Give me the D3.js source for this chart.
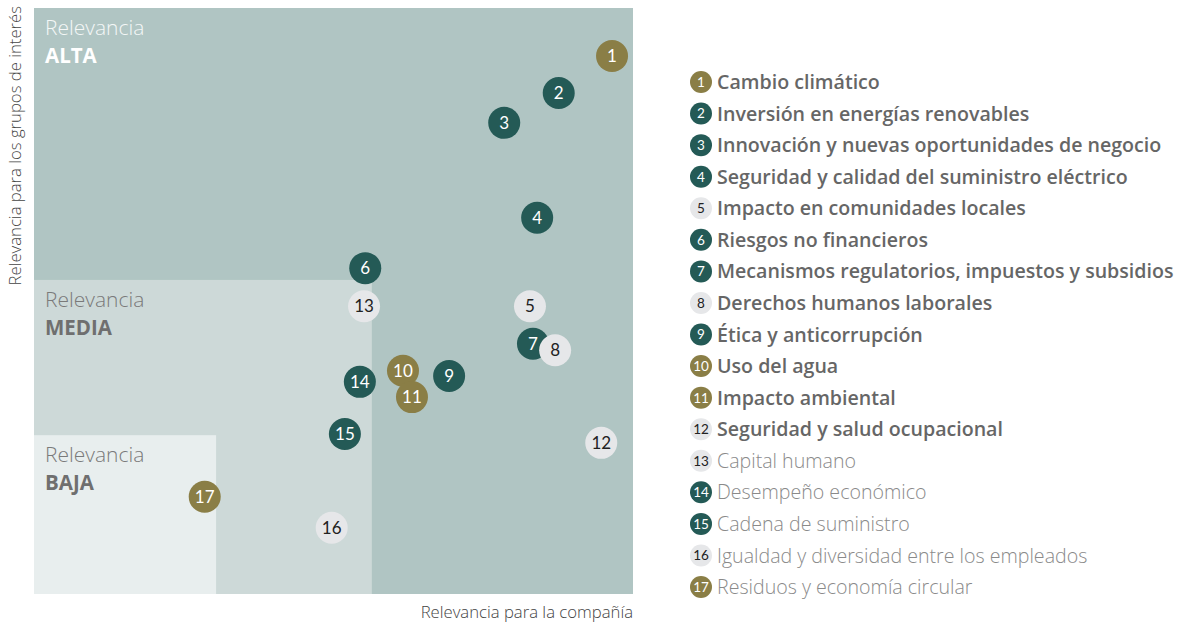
<!DOCTYPE html>
<html>
<head>
<meta charset="utf-8">
<script src="https://cdn.jsdelivr.net/npm/d3@7"></script>
<style>
  body { margin: 0; background: #fff; }
  svg text { font-family: "Open Sans", "Noto Sans", sans-serif; }
</style>
</head>
<body>
<div id="chart"></div>
<script>
// Chart size
const width = 1179;
const height = 626;
const margins = { top: 8, right: 546, bottom: 32, left: 34 };
const innerWidth = width - margins.left - margins.right;
const innerHeight = height - margins.top - margins.bottom;

// Topics (ids, names, group) and their positions (0-100 scale)
const ids = [1, 2, 3, 4, 5, 6, 7, 8, 9, 10, 11, 12, 13, 14, 15, 16, 17];
const names = [
  "Cambio climático",
  "Inversión en energías renovables",
  "Innovación y nuevas oportunidades de negocio",
  "Seguridad y calidad del suministro eléctrico",
  "Impacto en comunidades locales",
  "Riesgos no financieros",
  "Mecanismos regulatorios, impuestos y subsidios",
  "Derechos humanos laborales",
  "Ética y anticorrupción",
  "Uso del agua",
  "Impacto ambiental",
  "Seguridad y salud ocupacional",
  "Capital humano",
  "Desempeño económico",
  "Cadena de suministro",
  "Igualdad y diversidad entre los empleados",
  "Residuos y economía circular"
];
const groups = ["env", "dark", "dark", "dark", "light", "dark", "dark", "light", "dark",
                "env", "env", "light", "light", "dark", "dark", "light", "env"];
const companyValues = [96.5, 87.6, 78.5, 84.0, 82.8, 55.3, 83.3, 87.0, 69.3, 61.6, 63.1, 94.7, 55.1, 54.4, 51.9, 49.7, 28.5];
const stakeholderValues = [91.8, 85.5, 80.4, 64.2, 49.1, 55.6, 42.7, 41.6, 37.2, 38.1, 33.6, 25.8, 49.1, 36.2, 27.3, 11.3, 16.6];
// Topics 1-12 are material (bold in legend)
const highlighted = [true, true, true, true, true, true, true, true, true, true, true, true,
                     false, false, false, false, false];

// Relevance zones: upper bounds on both axes
const zoneNames = ["ALTA", "MEDIA", "BAJA"];
const zoneX = [100, 56.4, 30.4];
const zoneY = [100, 53.6, 27.1];

const data = ids.map((id, i) => ({
  id: id,
  name: names[i],
  group: groups[i],
  x: companyValues[i],
  y: stakeholderValues[i],
  bold: highlighted[i]
}));

const fillColor = d3.scaleOrdinal()
  .domain(["env", "dark", "light"])
  .range(["#8a7e46", "#245a56", "#e6e7e9"]);
const textColor = d3.scaleOrdinal()
  .domain(["env", "dark", "light"])
  .range(["#ffffff", "#ffffff", "#222222"]);
const zoneFill = d3.scaleOrdinal()
  .domain(zoneNames)
  .range(["#b0c5c3", "#cdd9d8", "#e8eeee"]);

const xScale = d3.scaleLinear().domain([0, 100]).range([0, innerWidth]);
const yScale = d3.scaleLinear().domain([0, 100]).range([innerHeight, 0]);

const svg = d3.select("#chart")
  .append("svg")
    .attr("width", width)
    .attr("height", height);

const mainG = svg.append("g")
  .attr("transform", `translate(${margins.left}, ${margins.top})`);

// Zone rectangles
const zones = zoneNames.map((z, i) => ({ name: z, x: zoneX[i], y: zoneY[i] }));

mainG.selectAll(".zone")
  .data(zones)
  .enter()
  .append("rect")
    .attr("x", 0)
    .attr("y", d => yScale(d.y))
    .attr("width", d => xScale(d.x))
    .attr("height", d => innerHeight - yScale(d.y))
    .attr("fill", d => zoneFill(d.name));

const zoneLabels = mainG.selectAll(".zoneLabel")
  .data(zones)
  .enter()
  .append("g")
    .attr("transform", d => `translate(11, ${yScale(d.y)})`);

zoneLabels.append("text")
  .attr("y", 27)
  .text("Relevancia")
  .style("font-size", "21px")
  .style("font-weight", 300)
  .style("fill", d => d.name === "ALTA" ? "#f4f7f7" : "#7a7a7a");

zoneLabels.append("text")
  .attr("y", 55)
  .text(d => d.name)
  .style("font-size", "20.5px")
  .style("font-weight", 700)
  .style("fill", d => d.name === "ALTA" ? "#ffffff" : "#6f6f6f");

// Bubbles
const bubbles = mainG.selectAll(".bubble")
  .data(data)
  .enter()
  .append("g")
    .attr("transform", d => `translate(${xScale(d.x)}, ${yScale(d.y)})`);

bubbles.append("circle")
  .attr("r", 16)
  .attr("fill", d => fillColor(d.group));

bubbles.append("text")
  .attr("text-anchor", "middle")
  .attr("dy", "0.36em")
  .text(d => d.id)
  .style("font-size", "17px")
  .style("font-family", "Lato, sans-serif")
  .style("fill", d => textColor(d.group));

// Axis titles
svg.append("text")
  .attr("transform", `translate(21, 6) rotate(-90)`)
  .attr("text-anchor", "end")
  .text("Relevancia para los grupos de interés")
  .style("font-size", "16.7px")
  .style("font-weight", 300)
  .style("fill", "#444");

svg.append("text")
  .attr("x", margins.left + innerWidth)
  .attr("y", 618)
  .attr("text-anchor", "end")
  .text("Relevancia para la compañía")
  .style("font-size", "16.7px")
  .style("font-weight", 300)
  .style("fill", "#444");

// Legend
const legendY = d3.scaleLinear().domain([1, 17]).range([82, 587]);

const legend = svg.selectAll(".legendItem")
  .data(data)
  .enter()
  .append("g")
    .attr("transform", d => `translate(701, ${legendY(d.id)})`);

legend.append("circle")
  .attr("r", 11)
  .attr("fill", d => fillColor(d.group));

legend.append("text")
  .attr("text-anchor", "middle")
  .attr("dy", "0.36em")
  .text(d => d.id)
  .style("font-size", "13.5px")
  .style("font-family", "Lato, sans-serif")
  .style("fill", d => textColor(d.group));

legend.append("text")
  .attr("x", 16)
  .attr("dy", "0.36em")
  .text(d => d.name)
  .style("font-size", "19.6px")
  .style("font-weight", d => d.bold ? 600 : 300)
  .style("fill", d => d.bold ? "#666666" : "#8a8a8a");
</script>
</body>
</html>
